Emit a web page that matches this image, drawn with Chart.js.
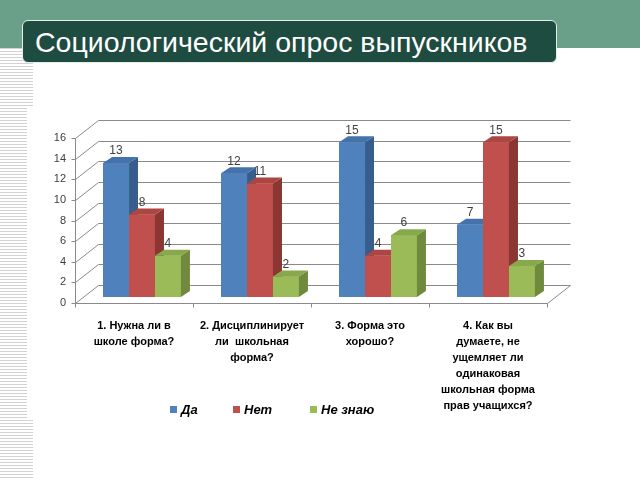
<!DOCTYPE html>
<html><head><meta charset="utf-8">
<script src="https://cdn.jsdelivr.net/npm/chart.js@4.4.1/dist/chart.umd.min.js"></script>
<style>
html,body{margin:0;padding:0;background:#fff;width:640px;height:480px;overflow:hidden;position:relative;font-family:"Liberation Sans",Arial,sans-serif}
#band{position:absolute;left:0;top:0;width:640px;height:48px;background:#6a9f89}
.stripe{position:absolute;left:0;background:repeating-linear-gradient(to bottom,#d2d2d2 0,#d2d2d2 1px,#fff 1px,#fff 3px)}
#title{position:absolute;left:22px;top:20px;width:535px;height:43px;box-sizing:border-box;background:#1f4c40;border:1px solid #e4eee9;border-radius:6px;color:#fff;font-size:28.5px;line-height:43px;padding-left:12px;white-space:nowrap;overflow:hidden}
canvas{position:absolute;left:0;top:0}
.lg{position:absolute;top:402px;font-size:13px;font-weight:bold;font-style:italic;color:#000;white-space:nowrap}
.lg i{display:inline-block;width:7px;height:7px;margin-right:4px;vertical-align:1px}
</style></head>
<body>
<div id="band"></div>
<div class="stripe" style="top:48px;width:33px;height:60px"></div>
<div class="stripe" style="top:108px;width:27px;height:312px"></div>
<div class="stripe" style="top:420px;width:33px;height:60px"></div>
<canvas id="c" width="640" height="480"></canvas>
<div id="title">Социологический опрос выпускников</div>
<div id="legend"></div>
<script>
const categories = [
  ["1. Нужна ли в", "школе форма?"],
  ["2. Дисциплинирует", "ли  школьная", "форма?"],
  ["3. Форма это", "хорошо?"],
  ["4. Как вы", "думаете, не", "ущемляет ли", "одинаковая", "школьная форма", "прав учащихся?"]
];
const seriesNames = ["Да", "Нет", "Не знаю"];
const yesValues = [13, 12, 15, 7];
const noValues = [8, 11, 4, 15];
const dontKnowValues = [4, 2, 6, 3];
const yTicks = [0, 2, 4, 6, 8, 10, 12, 14, 16];

const frontColors = ["#4f81bd", "#c0504d", "#9bbb59"];
const sideColors = ["#375d8c", "#8c3633", "#6f8a3c"];
const topColors = ["#4472aa", "#ad4643", "#88a84c"];

const DX = 23, DY = 18;      // wall depth
const BX = 8, BY = 6;        // bar plane offset
const SD = 9, SDY = 6;       // bar depth

const legendEl = document.getElementById('legend');
const legendX = [170, 233, 310];
seriesNames.forEach((n, i) => {
  const d = document.createElement('div');
  d.className = 'lg';
  d.style.left = legendX[i] + 'px';
  d.innerHTML = '<i style="background:' + frontColors[i] + '"></i>' + n;
  legendEl.appendChild(d);
});

const wall = {
  id: 'wall',
  beforeDatasetsDraw(chart) {
    const {ctx, chartArea: a, scales: {x, y}} = chart;
    ctx.save();
    ctx.strokeStyle = '#8a8a8a';
    ctx.lineWidth = 1;
    const L = Math.round(a.left) + 0.5, R = Math.round(a.right) + 0.5;
    for (const v of yTicks) {
      const py = Math.round(y.getPixelForValue(v)) + 0.5;
      ctx.beginPath();
      ctx.moveTo(L - 4, py);
      ctx.lineTo(L, py);
      ctx.lineTo(L + DX, py - DY);
      ctx.lineTo(R + DX, py - DY);
      ctx.stroke();
    }
    const top = Math.round(y.getPixelForValue(16)) + 0.5;
    const bot = Math.round(y.getPixelForValue(0)) + 0.5;
    ctx.beginPath();
    ctx.moveTo(L, top); ctx.lineTo(L, bot);
    ctx.lineTo(R, bot); ctx.lineTo(R + DX, bot - DY);
    ctx.stroke();
    const n = categories.length;
    for (let i = 0; i <= n; i++) {
      const px = Math.round(a.left + i * (a.right - a.left) / n) + 0.5;
      ctx.beginPath(); ctx.moveTo(px, bot); ctx.lineTo(px, bot + 4); ctx.stroke();
    }
    ctx.restore();
    ctx.save();
    ctx.translate(BX, -BY);
  },
  afterDatasetsDraw(chart) {
    const {ctx} = chart;
    ctx.restore();
    const metas = [0, 1, 2].map(i => chart.getDatasetMeta(i));
    const data = chart.data.datasets.map(d => d.data);
    ctx.save();
    ctx.translate(BX, -BY);
    for (let j = 0; j < categories.length; j++) {
      for (let i = 0; i < 3; i++) {
        const p = metas[i].data[j].getProps(['x', 'y', 'base', 'width'], true);
        const l = p.x - p.width / 2, r = p.x + p.width / 2;
        ctx.fillStyle = frontColors[i];
        ctx.fillRect(l, p.y, p.width, p.base - p.y);
        ctx.fillStyle = sideColors[i];
        ctx.beginPath();
        ctx.moveTo(r, p.y); ctx.lineTo(r + SD, p.y - SDY); ctx.lineTo(r + SD, p.base - SDY); ctx.lineTo(r, p.base);
        ctx.closePath(); ctx.fill();
        ctx.fillStyle = topColors[i];
        ctx.beginPath();
        ctx.moveTo(l, p.y); ctx.lineTo(l + SD, p.y - SDY); ctx.lineTo(r + SD, p.y - SDY); ctx.lineTo(r, p.y);
        ctx.closePath(); ctx.fill();
      }
    }
    ctx.fillStyle = '#404040';
    ctx.font = '12px "Liberation Sans", Arial, sans-serif';
    ctx.textAlign = 'center';
    ctx.textBaseline = 'middle';
    for (let j = 0; j < categories.length; j++) {
      for (let i = 0; i < 3; i++) {
        const p = metas[i].data[j].getProps(['x', 'y'], true);
        ctx.fillText(String(data[i][j]), p.x, p.y - 12);
      }
    }
    ctx.restore();
  }
};

new Chart(document.getElementById('c'), {
  type: 'bar',
  data: {
    labels: categories,
    datasets: [
      {label: seriesNames[0], data: yesValues, backgroundColor: frontColors[0]},
      {label: seriesNames[1], data: noValues, backgroundColor: frontColors[1]},
      {label: seriesNames[2], data: dontKnowValues, backgroundColor: frontColors[2]}
    ]
  },
  options: {
    responsive: false,
    animation: false,
    events: [],
    datasets: {bar: {categoryPercentage: 0.66, barPercentage: 1}},
    layout: {padding: {left: 0, right: 93, top: 138, bottom: 0}},
    plugins: {legend: {display: false}, tooltip: {enabled: false}},
    scales: {
      x: {
        grid: {display: false, drawTicks: false},
        border: {display: false},
        ticks: {autoSkip: false, maxRotation: 0, padding: 15, color: '#000',
          font: {family: '"Liberation Sans", Arial, sans-serif', size: 11, weight: 'bold', lineHeight: 1.45}},
        afterFit: s => { s.height = 177; }
      },
      y: {
        min: 0, max: 16,
        grid: {display: false, drawTicks: false},
        border: {display: false},
        ticks: {stepSize: 2, padding: 9, color: '#404040',
          font: {family: '"Liberation Sans", Arial, sans-serif', size: 11}},
        afterFit: s => { s.width = 75; }
      }
    }
  },
  plugins: [wall]
});
</script>
</body></html>
